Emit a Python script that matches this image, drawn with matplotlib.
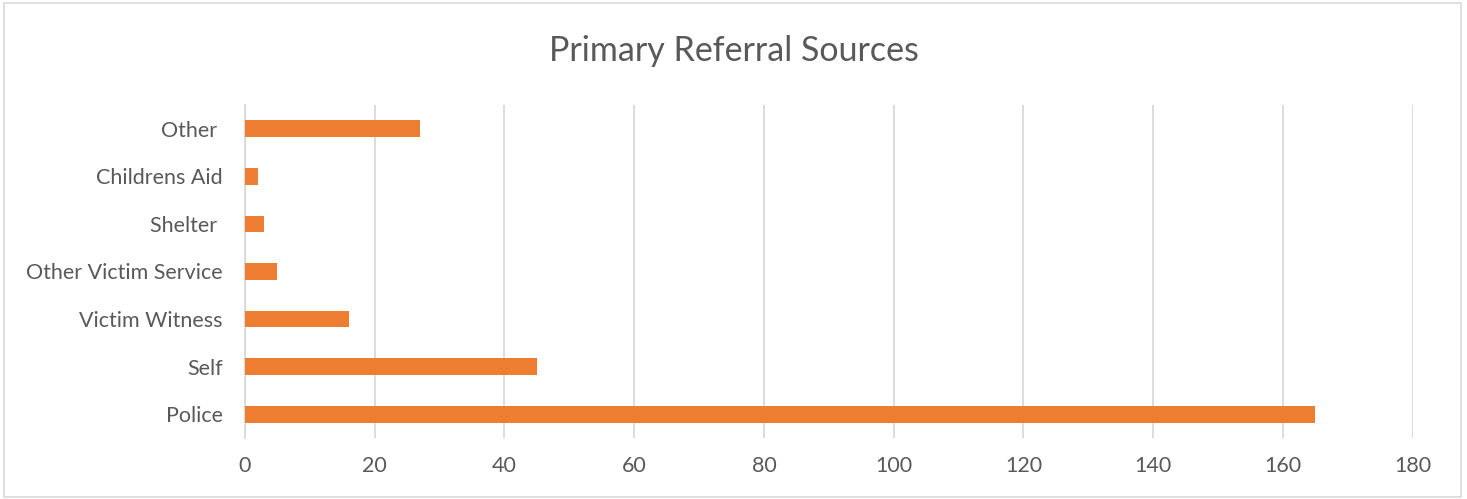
import matplotlib.pyplot as plt
from matplotlib.patches import Rectangle

plt.rcParams['font.family'] = ['Lato', 'DejaVu Sans']

sources = ['Police', 'Self', 'Victim Witness', 'Other Victim Service',
           'Shelter ', 'Childrens Aid', 'Other ']
counts = [165, 45, 16, 5, 3, 2, 27]
xticks = [0, 20, 40, 60, 80, 100, 120, 140, 160, 180]

fig = plt.figure(figsize=(14.67, 4.99), dpi=100)
ax = fig.add_axes([0.167, 0.122, 0.796, 0.668])

ax.barh(sources, counts, height=0.35, color='#ED7D31', zorder=3)

ax.set_xlim(0, 180)
ax.set_ylim(-0.5, len(sources) - 0.5)
ax.set_xticks(xticks)
ax.grid(axis='x', color='#d9d9d9', linewidth=1.3, zorder=0)
for s in ['top', 'right', 'bottom']:
    ax.spines[s].set_visible(False)
ax.spines['left'].set_color('#d9d9d9')
ax.spines['left'].set_linewidth(1.3)
ax.tick_params(length=0, labelsize=15.5, colors='#595959')
ax.tick_params(axis='y', pad=16)
ax.tick_params(axis='x', pad=13)

fig.text(0.5, 0.898, 'Primary Referral Sources', ha='center', va='center',
         fontsize=24.5, color='#595959')

fig.patches.append(Rectangle((0.003, 0.004), 0.993, 0.99, transform=fig.transFigure,
                             fill=False, edgecolor='#d9d9d9', linewidth=1.2))

fig.savefig('out.png', dpi=100)
